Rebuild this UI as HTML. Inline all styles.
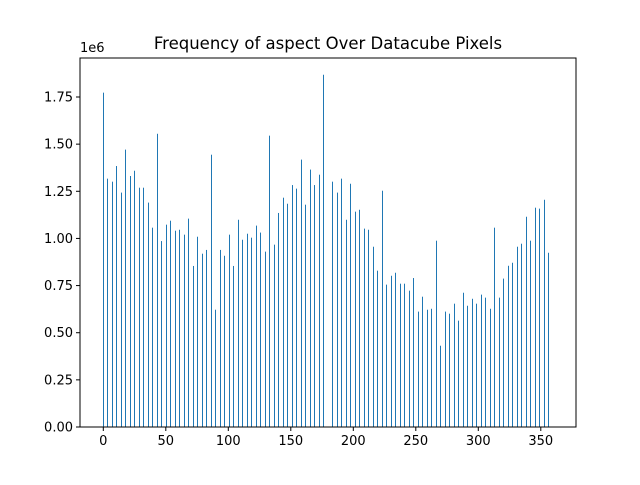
<!DOCTYPE html>
<html><head><meta charset="utf-8"><style>
body{margin:0;background:#fff;}
svg text{font-family:"DejaVu Sans","Liberation Sans",sans-serif;fill:#000;}
</style></head><body>
<svg width="640" height="480" xmlns="http://www.w3.org/2000/svg">
<rect width="640" height="480" fill="#fff"/>
<text x="328" y="49" font-size="16.5" text-anchor="middle">Frequency of aspect Over Datacube Pixels</text>
<text x="80" y="52" font-size="13">1e6</text>
<g id="bars"></g>
<g id="axes"></g>
</svg>
<script>
const binCenters = Array.from({length:100},(_,i)=>+(i*3.6).toFixed(1));
const counts = [1.773,1.317,1.301,1.384,1.243,1.471,1.331,1.359,1.269,1.269,
1.190,1.057,1.555,0.986,1.073,1.094,1.041,1.046,1.020,1.105,
0.854,1.009,0.919,0.939,1.444,0.622,0.939,0.908,1.020,0.854,
1.099,0.993,1.025,1.004,1.068,1.031,0.930,1.545,0.967,1.135,
1.216,1.184,1.283,1.264,1.418,1.179,1.365,1.283,1.338,1.868,
0,1.301,1.243,1.317,1.099,1.290,1.142,1.152,1.052,1.046,
0.956,0.829,1.253,0.755,0.802,0.818,0.760,0.760,0.723,0.790,
0.612,0.691,0.622,0.627,0.988,0.431,0.612,0.601,0.654,0.564,
0.712,0.643,0.680,0.654,0.702,0.686,0.627,1.057,0.686,0.787,
0.855,0.871,0.956,0.972,1.115,0.988,1.163,1.158,1.205,0.924];
const xTicks = [0,50,100,150,200,250,300,350];
const yTicks = [0,0.25,0.5,0.75,1.0,1.25,1.5,1.75];
const yTickLabels = ["0.00","0.25","0.50","0.75","1.00","1.25","1.50","1.75"];

const L=80,R=576,T=58,B=427;
const xS=v=>103.3+v*1.25;
const yS=v=>B-v*(330/1.75);
const NS="http://www.w3.org/2000/svg";
const bars=document.getElementById('bars');
const axes=document.getElementById('axes');
function mk(tag,attrs,parent){const e=document.createElementNS(NS,tag);for(const k in attrs)e.setAttribute(k,attrs[k]);parent.appendChild(e);return e;}
binCenters.forEach((c,i)=>{
  const v=counts[i]; if(v<=0) return;
  const r=mk('rect',{x:Math.round(xS(c)-0.5),y:yS(v),width:1,height:B-yS(v),fill:'#1f77b4'},bars);
  
  
});
const frame=mk('rect',{x:L,y:T,width:R-L,height:B-T,fill:'none',stroke:'#000','stroke-width':1},axes);


xTicks.forEach(t=>{
  const x=xS(t);
  const ln=mk('line',{x1:x,x2:x,y1:B,y2:B+4,stroke:'#000'},axes);
  
  
  const tx=mk('text',{x:x,y:B+18,'font-size':13,'text-anchor':'middle'},axes);
  tx.textContent=t;
  
  
});
yTicks.forEach((t,i)=>{
  const y=yS(t);
  const ln=mk('line',{x1:L-4,x2:L,y1:y,y2:y,stroke:'#000'},axes);
  
  
  const tx=mk('text',{x:L-7,y:y+4.5,'font-size':13,'text-anchor':'end'},axes);
  tx.textContent=yTickLabels[i];
  
  
});
</script>
</body></html>
